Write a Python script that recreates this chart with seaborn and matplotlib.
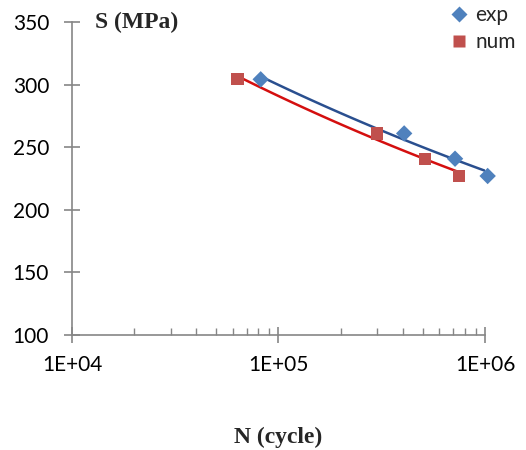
import numpy as np
import pandas as pd
import seaborn as sns
import matplotlib
matplotlib.use("Agg")
import matplotlib.pyplot as plt
from matplotlib.ticker import LogLocator, FixedLocator, NullFormatter
from matplotlib.lines import Line2D

# data
exp_N = [8.2e4, 4.06e5, 7.16e5, 1.03e6]
exp_S = [304.2, 261.0, 240.8, 227.0]
num_N = [6.33e4, 3.0e5, 5.14e5, 7.46e5]
num_S = [304.5, 261.0, 240.8, 227.0]
x_ticks = [1e4, 1e5, 1e6]
x_tick_labels = ["1E+04", "1E+05", "1E+06"]
y_ticks = [100, 150, 200, 250, 300, 350]

sns.set_theme(style="white")
plt.rcParams["font.family"] = ["Lato", "DejaVu Sans"]

fig = plt.figure(figsize=(5.26, 4.5), dpi=100)
ax = fig.add_axes([72/526, 1-335/450, (485-72)/526, (335-22)/450])

df = pd.DataFrame({
    "N": exp_N + num_N,
    "S": exp_S + num_S,
    "series": ["exp"]*len(exp_N) + ["num"]*len(num_N),
})

# power-law trend lines (fit on log-log)
def trend(N, S):
    b, a = np.polyfit(np.log10(N), np.log10(S), 1)
    xs = np.logspace(np.log10(min(N)), np.log10(max(N)), 50)
    return xs, 10**a * xs**b

tx, ty = trend(exp_N, exp_S)
sns.lineplot(x=tx, y=ty, ax=ax, color="#2A4F8F", lw=1.8, legend=False)
tx, ty = trend(num_N, num_S)
sns.lineplot(x=tx, y=ty, ax=ax, color="#D40F0F", lw=1.8, legend=False)

sns.scatterplot(data=df, x="N", y="S", hue="series", style="series",
                size="series", sizes={"exp": 70, "num": 78},
                markers={"exp": "D", "num": "s"},
                palette={"exp": "#4F81BD", "num": "#C0504D"},
                edgecolor="none", ax=ax, zorder=3, legend=False)
for c in ax.collections:
    c.set_clip_on(False)

ax.set_xscale("log")
ax.set_xlim(1e4, 1e6)
ax.set_ylim(100, 350)
ax.xaxis.set_major_locator(FixedLocator(x_ticks))
ax.set_xticklabels(x_tick_labels)
ax.xaxis.set_minor_locator(LogLocator(base=10, subs=np.arange(2, 10)))
ax.xaxis.set_minor_formatter(NullFormatter())
ax.set_yticks(y_ticks)

for s in ["top", "right"]:
    ax.spines[s].set_visible(False)
for s in ["left", "bottom"]:
    ax.spines[s].set_color("#868686")
    ax.spines[s].set_linewidth(1.2)

ax.tick_params(axis="both", which="major", direction="inout", length=11,
               width=1.2, color="#868686", labelsize=15, labelcolor="black",
               left=True, bottom=True)
ax.tick_params(axis="y", which="major", pad=11)
ax.tick_params(axis="x", which="major", pad=9)
ax.tick_params(axis="x", which="minor", direction="in", length=5, width=1.0,
               color="#868686", bottom=True)
ax.set_xlabel("")
ax.set_ylabel("")
ax.grid(False)

fig.text(95/526, 1-22/450, "S (MPa)", family="Liberation Serif", weight="bold",
         fontsize=17, va="center", ha="left")
fig.text(278/526, 1-437/450, "N (cycle)", family="Liberation Serif", weight="bold",
         fontsize=17, va="center", ha="center")

handles = [
    Line2D([], [], ls="none", marker="D", color="#4F81BD", markersize=8.3, mec="none"),
    Line2D([], [], ls="none", marker="s", color="#C0504D", markersize=8.2, mec="none"),
]
ax.legend(handles, ["exp", "num"], loc="upper left",
          bbox_to_anchor=(449/526, 1-5/450), bbox_transform=fig.transFigure,
          frameon=False, fontsize=15, handletextpad=0.25, labelspacing=0.35,
          handlelength=1.0, borderaxespad=0, borderpad=0)

fig.savefig("out.png", dpi=100)
